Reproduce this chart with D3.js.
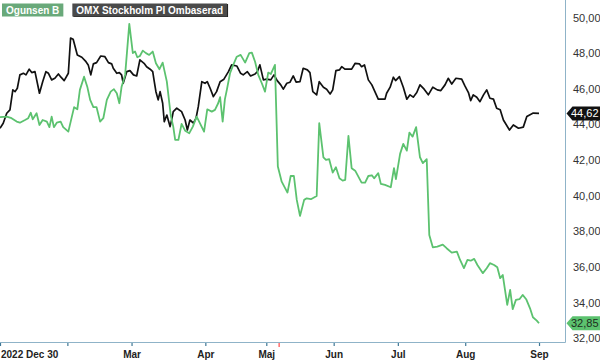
<!DOCTYPE html>
<html><head><meta charset="utf-8">
<script src="https://cdn.jsdelivr.net/npm/d3@7"></script>
<style>
html,body{margin:0;padding:0;background:#fff;}
svg{display:block;font-family:"Liberation Sans",Arial,sans-serif;}
</style></head>
<body>
<svg id="chart" width="600" height="360"></svg>
<script>
// ---- data (x = trading-day index since 2022-12-30) ----
const seriesNames = ["Ogunsen B", "OMX Stockholm PI Ombaserad"];

const omxDays = [0,1,2.1,3.1,4,4.7,5.4,6.2,7.3,8.1,9.1,9.9,10.9,12.3,13.3,14.3,15.1,16.1,17.1,18.2,19,20,21.3,22,22.8,24.1,25.5,26.8,27.5,28.3,29.1,30.1,31.4,32.7,33.8,34.8,35.3,36.4,37.2,37.9,38.4,39.5,40.5,41.6,42.6,43.6,44.9,45.7,46.8,47.6,48,48.6,49.3,49.9,50.7,51.2,52,53,53.5,54,55.1,56.6,57.7,58.4,59.2,60.3,61.1,61.8,62.9,63.9,64.6,65.5,66.5,67.5,68.6,69.8,71.2,72.2,73.8,75,75.8,77.1,78.1,79.5,80.2,81,82.1,83.1,84.4,85.4,86.4,87.5,88.3,89.4,90.4,91.4,92.3,93.5,94.5,95.8,96.6,97.5,98.7,99.5,100.8,101.8,102.9,103.7,104.7,105.8,106.5,107.5,109.6,110.7,112,112.7,113.6,114.8,115.9,117.9,120,120.5,121.6,122.6,123.3,124.5,125.7,126.8,127.8,128.8,129.9,130.9,132.2,133.5,134.9,136.3,137.4,138.7,139.7,140.8,142.1,143.9,144.9,146,146.7,147.5,148.6,149.6,150.7,151.7,152.7,153.8,154.8,155.9,156.9,158.8,160,161.6,163.1,164.2,165.2,166.2,168];
const omxValues = [43.79,44.07,44.63,44.82,45.94,45.84,46.03,46.78,46.87,46.78,47.10,46.91,46.96,45.75,46.40,46.96,46.87,46.50,46.59,46.83,46.65,46.46,46.87,48.84,48.78,47.90,47.77,47.52,47.34,46.78,47.40,47.47,47.84,47.80,47.47,47.40,47.15,46.87,46.91,46.78,46.31,46.96,47.02,46.78,46.72,47.62,47.43,47.24,47.10,46.96,46.50,45.84,45.38,45.84,45.19,44.16,44.53,43.88,44.25,44.72,44.91,44.72,44.25,43.69,44.25,44.07,44.35,45.00,46.40,46.31,46.40,46.03,45.56,45.84,46.40,46.54,46.96,47.34,47.28,46.87,46.78,46.96,46.72,46.83,46.96,47.34,46.50,46.54,46.50,46.78,46.46,46.22,45.98,46.31,46.37,46.72,46.37,46.40,47.15,47.06,46.91,45.84,45.66,46.40,46.09,45.98,45.71,45.94,47.02,47.06,47.24,47.10,47.10,47.43,47.40,47.24,47.34,46.50,46.22,45.42,45.42,45.75,46.09,46.65,46.46,46.68,46.09,45.42,45.66,45.53,45.79,46.22,45.98,45.66,46.09,45.94,45.90,46.22,46.59,46.27,46.59,46.54,46.16,45.79,45.34,45.66,45.53,45.28,45.66,45.94,45.47,45.42,44.91,44.82,44.25,43.69,43.97,43.79,43.85,44.45,44.55,44.64,44.62];

const ogDays = [0,2.1,3.6,5.2,6.2,7.8,8.8,9.6,10.2,11.4,12.3,13.3,14.6,15.4,16.1,16.8,17.7,18.9,19.7,21.3,22.4,23.1,24.1,24.9,26.2,27.2,28.1,29.1,30.1,31.2,32.2,33.3,34.5,35.5,36.4,37.2,37.9,39,40.3,41.4,42.1,42.8,43.6,44.5,45.5,46.5,47.6,48.6,49.7,50.7,52,53.2,54,54.6,55.6,56.6,57.7,59,60.1,61.3,62.3,63.6,64.6,66,67,68,68.6,69.4,70.1,70.7,71.7,72.7,73.8,75,76.4,77.7,78.5,79.5,80.5,81.6,82.6,83.6,84.4,85,85.7,86.6,87.8,89.6,90.6,91.6,92.5,93.5,94.8,95.6,96.9,98.7,99.5,100.8,101.6,102.6,103.7,104.7,105.8,106.8,107.6,108.6,109.6,110.7,112.7,113.8,114.8,115.9,116.6,117.9,118.7,120,121.8,122.8,123.4,124.7,125.7,126.8,127.6,128.6,129.7,130.9,131.8,133,133.8,134.9,136.3,138,139.2,140.8,142.4,143.4,144.6,145.7,146.7,147.8,148.8,150.5,151.7,152.7,154,155,155.9,156.7,157.4,158.1,159,159.8,160.8,161.9,162.9,164,165.2,166.1,167.3,168];
const ogValues = [44.41,44.44,44.35,44.16,44.10,44.25,44.35,44.66,44.29,44.63,43.97,44.25,44.16,43.85,44.44,43.85,44.10,44.16,43.85,43.60,44.44,44.97,44.85,45.94,46.68,46.12,45.38,44.97,44.97,44.16,44.35,45.38,45.84,45.98,45.75,45.19,46.12,46.78,49.64,48.00,48.09,47.77,47.84,48.14,48.00,47.90,48.09,47.43,47.10,47.47,46.40,44.53,43.88,43.13,43.13,44.03,43.65,43.51,43.88,44.44,44.07,43.60,44.85,44.72,44.82,45.19,45.53,44.16,45.42,45.94,46.87,47.34,47.80,47.90,47.47,48.00,48.03,47.52,46.78,46.31,45.84,46.91,46.83,47.06,47.34,41.64,40.79,40.18,41.11,41.11,39.77,38.87,39.77,39.86,39.81,39.99,44.07,42.16,42.01,42.05,41.30,41.60,40.98,40.85,40.89,43.36,41.55,41.41,40.74,40.74,41.11,41.15,40.98,41.27,40.67,40.61,40.48,41.55,40.93,42.35,42.91,42.53,43.54,43.32,43.85,42.16,41.83,42.05,37.80,37.11,37.15,37.26,37.06,36.81,36.87,36.40,35.94,36.40,36.36,36.46,36.12,35.66,35.94,36.22,36.12,35.99,35.38,35.56,34.72,33.88,34.72,33.64,34.16,34.20,34.44,34.20,33.69,33.19,33.00,32.85];

const xTickDays = [0,21,41,64,83,104,124,145,168];
const xTickLabels = ["2022 Dec 30","","Mar","Apr","Maj","Jun","Jul","Aug","Sep"];
const markerDay = [87];
const yTickValues = [32,34,36,38,40,42,44,46,48,50];

// ---- layout ----
const plot = {left:0, top:0, right:565, bottom:342};
const svg = d3.select("#chart");

const x = d3.scaleLinear().domain([0,176.1]).range([plot.left, plot.right]);
const y = d3.scaleLinear().domain([31.8,50.98]).range([plot.bottom, plot.top]);
const fmt = v => d3.format(".2f")(v).replace(".", ",");

svg.append("defs").append("clipPath").attr("id","clip")
  .append("rect").attr("x",plot.left).attr("y",plot.top)
  .attr("width",plot.right-plot.left).attr("height",plot.bottom-plot.top);

// right axis labels
const yAxis = d3.axisRight(y).tickValues(yTickValues).tickSize(0).tickPadding(8).tickFormat(fmt);
const gy = svg.append("g").attr("transform",`translate(${plot.right},0)`).call(yAxis);
gy.select(".domain").remove();
gy.selectAll("text").attr("font-size",11).attr("fill","#333").attr("font-family","Liberation Sans, Arial, sans-serif");

// bottom axis
const xAxis = d3.axisBottom(x).tickValues(xTickDays).tickSize(4).tickPadding(5)
  .tickFormat((d,i)=>xTickLabels[i]);
const gx = svg.append("g").attr("transform",`translate(0,${plot.bottom})`).call(xAxis);
gx.select(".domain").remove();
gx.selectAll(".tick line").attr("stroke","#3f7896").attr("stroke-width",1.2);
gx.selectAll("text").attr("font-size",10).attr("font-weight","bold").attr("fill","#222")
  .attr("font-family","Liberation Sans, Arial, sans-serif");
gx.selectAll(".tick text").filter((d,i)=>i===0).attr("text-anchor","start").attr("dx",0.5);

// red marker tick
svg.selectAll(".marker").data(markerDay).enter().append("line")
  .attr("x1",d=>x(d)).attr("x2",d=>x(d)).attr("y1",plot.bottom).attr("y2",plot.bottom+5)
  .attr("stroke","#ff4a4a").attr("stroke-width",1.2);

// frame lines
svg.append("line").attr("x1",plot.left).attr("x2",plot.right+0.5).attr("y1",plot.bottom+0.5).attr("y2",plot.bottom+0.5)
  .attr("stroke","#8fb3c8").attr("stroke-width",1);
svg.append("line").attr("x1",plot.right+0.5).attr("x2",plot.right+0.5).attr("y1",0).attr("y2",plot.bottom+0.5)
  .attr("stroke","#8fb3c8").attr("stroke-width",1);

// lines
const omx = omxDays.map((d,i)=>({d, v:omxValues[i]}));
const og = ogDays.map((d,i)=>({d, v:ogValues[i]}));
const line = d3.line().x(p=>x(p.d)).y(p=>y(p.v));
const gl = svg.append("g").attr("clip-path","url(#clip)");
gl.append("path").datum(omx).attr("d",line).attr("fill","none").attr("stroke","#111").attr("stroke-width",1.7).attr("stroke-linejoin","round");
gl.append("path").datum(og).attr("d",line).attr("fill","none").attr("stroke","#5cc26f").attr("stroke-width",1.8).attr("stroke-linejoin","round");

// last value tags
function tag(val, fill, textFill){
  const cy = y(val), h = 14, x0 = plot.right + 1.5, w = 34;
  svg.append("path")
    .attr("d",`M${x0},${cy} L${x0+6},${cy-h/2} L${x0+w},${cy-h/2} L${x0+w},${cy+h/2} L${x0+6},${cy+h/2} Z`)
    .attr("fill",fill);
  svg.append("text").attr("x",x0+w-2).attr("y",cy+4).attr("text-anchor","end")
    .attr("font-size",11).attr("fill",textFill).text(fmt(val));
}
tag(omxValues[omxValues.length-1], "#111", "#fff");
tag(ogValues[ogValues.length-1], "#5cc26f", "#1e2e1e");

// legend
const legendColors = ["#69a97a", "#4a4a4a"];
let lx = 2;
seriesNames.forEach((name,i)=>{
  const g = svg.append("g");
  const t = g.append("text").attr("x",lx+4).attr("y",14).attr("font-size",10).attr("font-weight","bold")
    .attr("fill","#fff").text(name);
  const tw = t.node().getComputedTextLength();
  if(i===1){
    g.insert("rect","text").attr("x",lx+1).attr("y",4).attr("width",tw+8).attr("height",13).attr("fill","#222");
  }
  g.insert("rect","text").attr("x",lx).attr("y",3.5).attr("width",tw+8).attr("height",13).attr("fill",legendColors[i]);
  lx += tw + 8 + 9;
});
</script>
</body></html>
